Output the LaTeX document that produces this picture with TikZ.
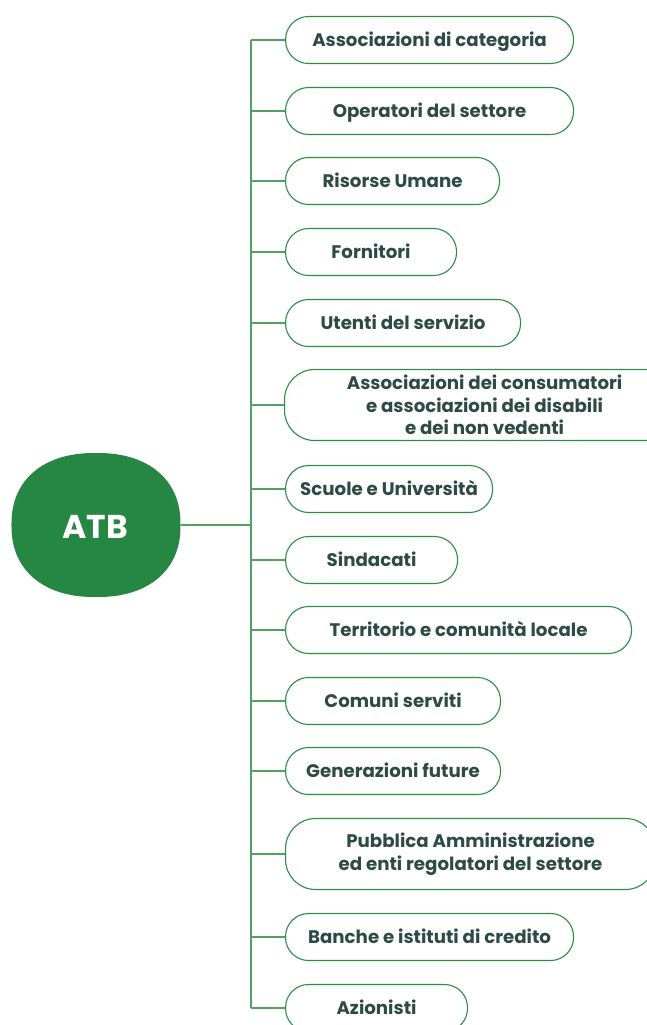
\documentclass[tikz,border=0pt]{standalone}
\usepackage{fontspec}
\setmainfont{Poppins}
\definecolor{boxgreen}{HTML}{2E8B45}
\definecolor{linegreen}{HTML}{4FA262}
\definecolor{atbgreen}{HTML}{268744}
\definecolor{txt}{HTML}{2D4A43}
\begin{document}
\begin{tikzpicture}[x=1pt,y=-1pt,
  pillbase/.style={draw=boxgreen, line width=1.1pt, anchor=west,
    inner sep=0pt, text=txt, font=\fontsize{18.2}{22.5}\selectfont\bfseries, align=center},
  pill/.style={pillbase, rounded corners=23pt, minimum height=47pt, text height=13pt, text depth=0pt},
  pilltall/.style={pillbase, rounded corners=30pt, minimum height=71pt},
  conn/.style={draw=linegreen, line width=1.1pt}]
\useasboundingbox (0,0) rectangle (647,1025);
\clip (0,0) rectangle (647,1025);
\fill[atbgreen] plot[domain=0:360, samples=240, smooth cycle]
  ({96+84.5*(cos(\x)<0?-1:1)*pow(abs(cos(\x)),0.88)}, {525+72*(sin(\x)<0?-1:1)*pow(abs(sin(\x)),0.88)});
\node[text=white, font=\fontsize{33}{33}\selectfont\bfseries] (atb) at (95,527) {ATB};
\coordinate (atbE) at (180.5,525);
\coordinate (top) at (251,40);
\coordinate (bot) at (251,1008);
\coordinate (mid) at (251,525);
\node[pill, minimum width=288pt] (b1) at (285,40) {Associazioni di categoria};
\node[pill, minimum width=288pt] (b2) at (285,111) {Operatori del settore};
\node[pill, minimum width=214pt] (b3) at (285,181) {Risorse Umane};
\node[pill, minimum width=171pt] (b4) at (285,252) {Fornitori};
\node[pill, minimum width=235pt] (b5) at (285,323) {Utenti del servizio};
\node[pilltall, minimum width=400pt] (b6) at (284,405) {\rule{0pt}{15pt}Associazioni dei consumatori\\ e associazioni dei disabili\\ e dei non vedenti};
\node[pill, minimum width=207pt] (b7) at (285,489) {Scuole e Università};
\node[pill, minimum width=172pt] (b8) at (285,560) {Sindacati};
\node[pill, minimum width=346pt] (b9) at (285,630) {Territorio e comunità locale};
\node[pill, minimum width=215pt] (b10) at (285,701) {Comuni serviti};
\node[pill, minimum width=215pt] (b11) at (285,771) {Generazioni future};
\node[pilltall, minimum width=370pt] (b12) at (285,854) {\rule{0pt}{15pt}Pubblica Amministrazione\\ ed enti regolatori del settore};
\node[pill, minimum width=288pt] (b13) at (285,937) {Banche e istituti di credito};
\node[pill, minimum width=182pt] (b14) at (285,1008) {Azionisti};
\draw[conn] (top) -- (bot);
\draw[conn] (atbE) -- (mid);
\foreach \i in {1,...,14} { \draw[conn] (b\i.west) -- (b\i.west -| top); }
\end{tikzpicture}
\end{document}
